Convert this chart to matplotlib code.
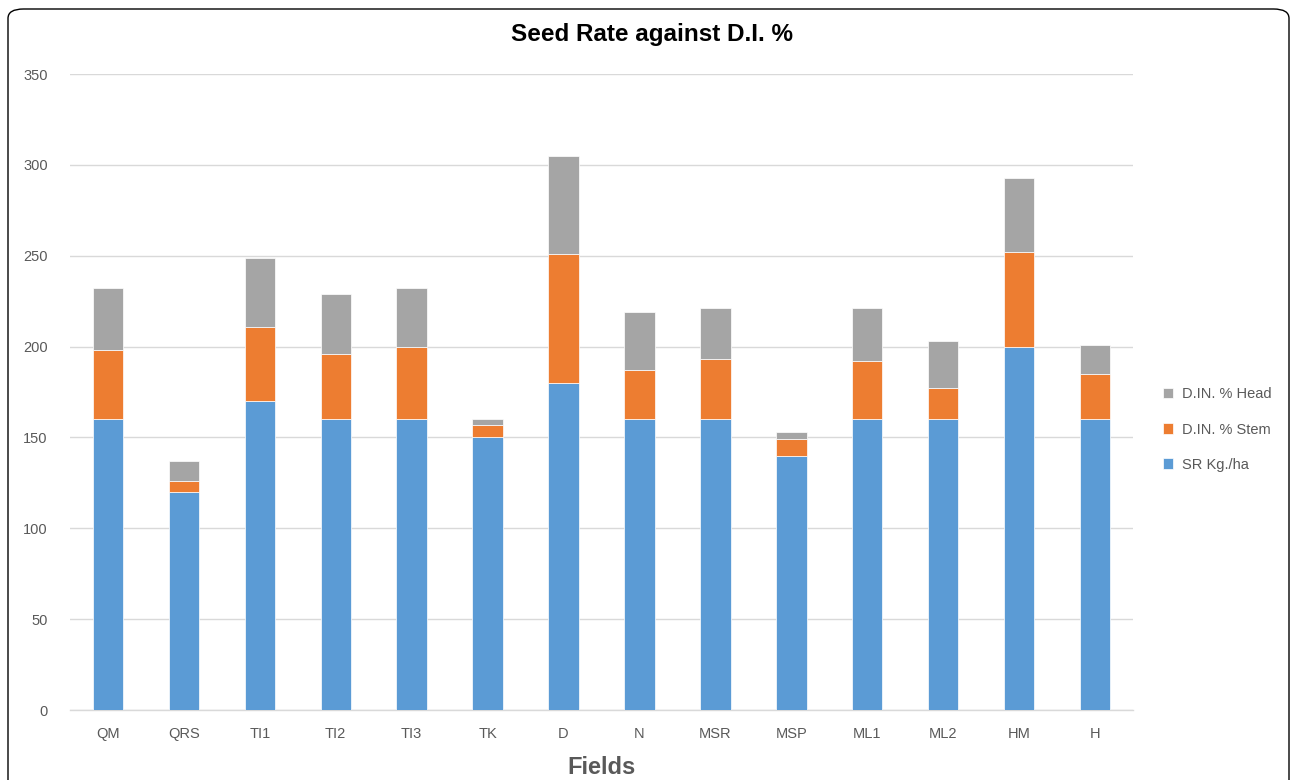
import numpy as np
import matplotlib.pyplot as plt
from matplotlib.patches import FancyBboxPatch

fields = ['QM', 'QRS', 'TI1', 'TI2', 'TI3', 'TK', 'D', 'N', 'MSR', 'MSP', 'ML1', 'ML2', 'HM', 'H']
sr = [160, 120, 170, 160, 160, 150, 180, 160, 160, 140, 160, 160, 200, 160]
stem = [38, 6, 41, 36, 40, 7, 71, 27, 33, 9, 32, 17, 52, 25]
head = [34, 11, 38, 33, 32, 3, 54, 32, 28, 4, 29, 26, 41, 16]

plt.rcParams['font.family'] = ['Liberation Sans', 'DejaVu Sans']

fig = plt.figure(figsize=(12.92, 7.8), dpi=100)
ax = fig.add_axes([70 / 1292, 70 / 780, 1063 / 1292, 636 / 780])

x = np.arange(len(fields))
sr = np.array(sr)
stem = np.array(stem)
head = np.array(head)
w = 0.4
b1 = ax.bar(x, sr, w, color='#5b9bd5', edgecolor='white', linewidth=0.5, label='SR Kg./ha', zorder=3)
b2 = ax.bar(x, stem, w, bottom=sr, color='#ed7d31', edgecolor='white', linewidth=0.5,
            label='D.IN. % Stem', zorder=3)
b3 = ax.bar(x, head, w, bottom=sr + stem, color='#a5a5a5', edgecolor='white', linewidth=0.5,
            label='D.IN. % Head', zorder=3)

ax.set_xlim(-0.5, len(fields) - 0.5)
ax.set_ylim(0, 350)
ax.set_yticks(range(0, 351, 50))
ax.set_xticks(x)
ax.set_xticklabels(fields)
ax.yaxis.grid(True, color='#d9d9d9', linewidth=1, zorder=0)
for s in ['top', 'right', 'left']:
    ax.spines[s].set_visible(False)
ax.spines['bottom'].set_color('#d9d9d9')
ax.spines['bottom'].set_linewidth(1)
ax.tick_params(length=0, colors='#595959', labelsize=10.5)
ax.tick_params(axis='x', pad=12)
ax.tick_params(axis='y', pad=16)

ax.set_xlabel('Fields', fontsize=17, fontweight='bold', color='#595959', labelpad=11)
fig.text(652 / 1292, 1 - 35 / 780, 'Seed Rate against D.I. %',
         ha='center', va='center', fontsize=17.5, fontweight='heavy', color='black')

leg = ax.legend(handles=[b3, b2, b1], loc='center left', bbox_to_anchor=(1.016, 0.441),
                frameon=False, fontsize=10.5, handlelength=0.7, handleheight=0.7,
                labelspacing=1.45, handletextpad=0.6)
for t in leg.get_texts():
    t.set_color('#595959')

border = FancyBboxPatch((8 / 1292, -0.05), 1281 / 1292, 1.05 - 9 / 780,
                        boxstyle='round,pad=0,rounding_size=0.012',
                        transform=fig.transFigure, facecolor='none',
                        edgecolor='black', linewidth=1, clip_on=False)
fig.patches.append(border)

fig.savefig('out.png', dpi=100)
